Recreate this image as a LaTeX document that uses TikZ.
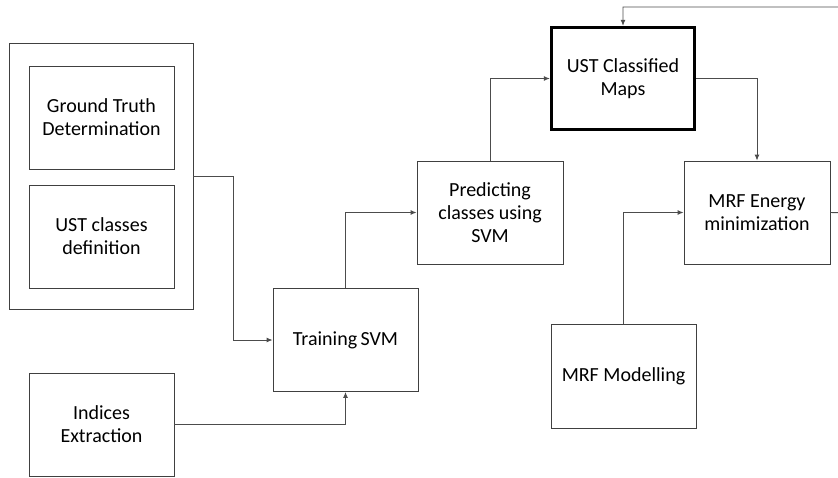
\documentclass[tikz,border=0pt]{standalone}
\usepackage{fontspec}
\setmainfont{Carlito}
\usetikzlibrary{arrows.meta}
\begin{document}
\begin{tikzpicture}[x=1pt,y=-1pt,
  box/.style={draw=black!75, line width=0.9pt, fill=white, align=center, font=\fontsize{20}{23}\selectfont, inner sep=0pt},
  conn/.style={draw=black!70, line width=0.9pt, -{Latex[length=6pt,width=5pt]}},
  plain/.style={draw=black!70, line width=0.9pt}]
\useasboundingbox (0,0) rectangle (838,477);
\clip (0,0) rectangle (838,477);
% outer group
\node[box, minimum width=184pt, minimum height=266pt] (grp) at (101,176) {};
\node[box, minimum width=145pt, minimum height=103pt] (gt) at (101.5,117.5) {Ground Truth\\Determination};
\node[box, minimum width=145pt, minimum height=103pt] (ucd) at (101.5,236.5) {UST classes\\definition};
\node[box, minimum width=145pt, minimum height=103pt] (ind) at (101.5,424.5) {Indices\\Extraction};
\node[box, minimum width=145pt, minimum height=103pt] (tsvm) at (345.5,340) {Training\,SVM};
\node[box, minimum width=146pt, minimum height=103pt] (pred) at (490,212.5) {Predicting\\classes using\\SVM};
\node[box, line width=3.3pt, draw=black, minimum width=143pt, minimum height=102pt] (ucm) at (623,78.5) {UST Classified\\Maps};
\node[box, minimum width=146pt, minimum height=103pt] (mrfe) at (757,212.5) {MRF Energy\\minimization};
\node[box, minimum width=145pt, minimum height=104pt] (mrfm) at (623.5,376) {MRF Modelling};
% connectors
\coordinate (j1) at (233,176);
\coordinate (fbR) at (850,213);
\coordinate (fbT) at (850,7);
\draw[conn] (grp.east |- j1) -- (j1) |- (tsvm.west);
\draw[conn] (ind.east) -| (tsvm.south);
\draw[conn] (tsvm.north) |- (pred.west);
\draw[conn] (pred.north) |- (ucm.west);
\draw[conn] (ucm.east) -| (mrfe.north);
\draw[conn] (mrfm.north) |- (mrfe.west);
\draw[conn] (mrfe.east) -- (fbR) -- (fbT) -| (ucm.north);
\end{tikzpicture}
\end{document}
